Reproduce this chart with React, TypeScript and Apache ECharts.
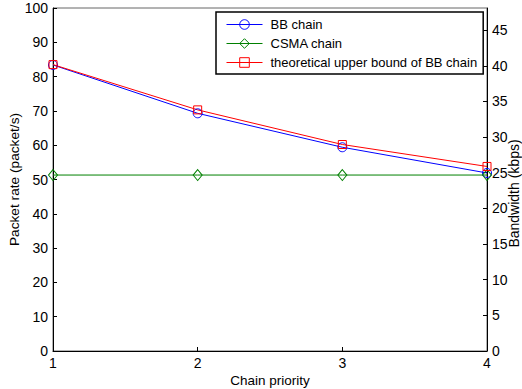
import React, { useEffect, useRef } from "react";
import * as echarts from "echarts";

const priorities = [1, 2, 3, 4];
const bbChain = [83.4, 69.3, 59.4, 51.9];
const csmaChain = [51.3, 51.3, 51.3, 51.3];
const upperBound = [83.5, 70.3, 60.2, 53.8];
const leftAxisMax = 100;
const rightAxisMax = 48.1;

export default function App() {
  const ref = useRef<HTMLDivElement>(null);
  useEffect(() => {
    if (!ref.current) return;
    const chart = echarts.init(ref.current, null, { renderer: "svg" });
    const font = "Liberation Sans, Arial, Helvetica, sans-serif";
    const mk = (name: string, data: number[], color: string, symbol: string, size: number | number[]) => ({
      name,
      type: "line",
      yAxisIndex: 0,
      data: priorities.map((p, i) => [p, data[i]]),
      symbol,
      symbolSize: size,
      showAllSymbol: true,
      lineStyle: { color, width: 1 },
      itemStyle: { color: "rgba(255,255,255,0)", borderColor: color, borderWidth: 1 },
      emphasis: { disabled: true },
    });
    chart.setOption({
      animation: false,
      textStyle: { fontFamily: font },
      grid: {
        left: 53, right: 35, top: 8, bottom: 38,
        outerBoundsMode: "none", containLabel: false,
        show: true, borderColor: "#666", borderWidth: 1,
      },
      legend: {
        orient: "vertical",
        left: 216,
        top: 12,
        padding: [6, 6, 5, 10],
        itemGap: 6,
        itemWidth: 36,
        itemHeight: 12,
        borderColor: "#000",
        borderWidth: 1.5,
        backgroundColor: "#fff",
        itemStyle: { borderWidth: 1 },
        lineStyle: { width: 1 },
        textStyle: { fontSize: 13, color: "#000", fontFamily: font, padding: [0, 0, 0, 3] },
        data: ["BB chain", "CSMA chain", "theoretical upper bound of BB chain"],
      },
      xAxis: {
        type: "value",
        min: 1,
        max: 4,
        interval: 1,
        name: "Chain priority",
        nameLocation: "middle",
        nameGap: 22,
        nameMoveOverlap: false,
        nameTextStyle: { fontSize: 13.5, color: "#000" },
        axisLine: { lineStyle: { color: "#000" } },
        axisTick: { inside: true, length: 4, lineStyle: { color: "#000" } },
        axisLabel: { fontSize: 14, color: "#000", margin: 5 },
        splitLine: { show: false },
      },
      yAxis: [
        {
          type: "value",
          min: 0,
          max: leftAxisMax,
          interval: 10,
          name: "Packet rate (packet/s)",
          nameLocation: "middle",
          nameGap: 32,
          nameMoveOverlap: false,
          nameTextStyle: { fontSize: 13.7, color: "#000" },
          axisLine: { show: true, lineStyle: { color: "#000" } },
          axisTick: { show: true, inside: true, length: 4, lineStyle: { color: "#000" } },
          axisLabel: { fontSize: 14, color: "#000", margin: 5 },
          splitLine: { show: false },
        },
        {
          type: "value",
          min: 0,
          max: rightAxisMax,
          interval: 5,
          position: "right",
          name: "Bandwidth (kbps)",
          nameLocation: "middle",
          nameGap: 20,
          nameMoveOverlap: false,
          nameTextStyle: { fontSize: 14, color: "#000", padding: [0, 28, 0, 0] },
          axisLine: { show: true, lineStyle: { color: "#000" } },
          axisTick: { show: true, inside: true, length: 4, lineStyle: { color: "#000" } },
          axisLabel: { fontSize: 14, color: "#000", margin: 5, showMaxLabel: false },
          splitLine: { show: false },
        },
      ],
      series: [
        mk("BB chain", bbChain, "#0000ff", "circle", 9),
        mk("CSMA chain", csmaChain, "#008000", "diamond", [9, 11]),
        mk("theoretical upper bound of BB chain", upperBound, "#ff0000", "rect", 8),
      ],
    });
    return () => chart.dispose();
  }, []);
  return <div ref={ref} style={{ width: 522, height: 389, position: "absolute", left: 0, top: 0, background: "#fff" }} />;
}
